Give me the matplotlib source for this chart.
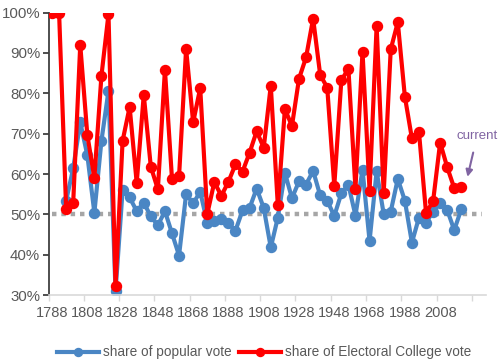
import matplotlib.pyplot as plt
import numpy as np

plt.rcParams['font.family'] = ['Liberation Sans', 'DejaVu Sans']

# election years 1788..2020
years = list(range(1788, 2024, 4))

# winner's share of popular vote (%), none for 1788 and 1792
popular = [np.nan, np.nan, 53.4, 61.4, 72.8, 64.7, 50.4, 68.2, 80.6, 30.9,
           56.0, 54.2, 50.8, 52.9, 49.5, 47.3, 50.8, 45.3, 39.8, 55.0,
           52.7, 55.6, 47.9, 48.3, 48.8, 47.8, 46.0, 51.0, 51.6, 56.4,
           51.6, 41.8, 49.2, 60.3, 54.0, 58.2, 57.4, 60.8, 54.7, 53.4,
           49.6, 55.2, 57.4, 49.7, 61.1, 43.4, 60.7, 50.1, 50.7, 58.8,
           53.4, 43.0, 49.2, 47.9, 50.7, 52.9, 51.1, 46.1, 51.3]

# winner's share of Electoral College vote (%)
electoral = [100.0, 100.0, 51.4, 52.9, 92.0, 69.7, 59.0, 84.3, 99.6, 32.2,
             68.2, 76.6, 57.8, 79.6, 61.8, 56.2, 85.8, 58.8, 59.4, 91.0,
             72.8, 81.3, 50.1, 58.0, 54.6, 58.1, 62.4, 60.6, 65.3, 70.6,
             66.5, 81.9, 52.2, 76.1, 71.9, 83.6, 88.9, 98.5, 84.6, 81.4,
             57.1, 83.2, 86.1, 56.4, 90.3, 55.9, 96.7, 55.2, 90.9, 97.6,
             79.2, 68.8, 70.4, 50.4, 53.2, 67.8, 61.7, 56.5, 56.9]

# 50% reference runs over the whole category axis
ref_years = list(range(1788, 2036, 4))
ref_level = [50] * len(ref_years)

label_years = list(range(1788, 2009, 20))
bound_ticks = list(range(1786, 2027, 20))
y_ticks = list(range(30, 101, 10))

blue = '#4a86c4'
red = '#ff0000'
txt = '#595959'

fig = plt.figure(figsize=(5, 3.59), dpi=100)
ax = fig.add_axes([0.097, 0.178, 0.875, 0.787])

ax.plot(ref_years, ref_level, color='#a6a6a6', lw=3.2, ls=(0, (1, 1.1)), zorder=1)
ax.plot(years, popular, color=blue, lw=3, marker='o', ms=7.2, zorder=2,
        label='share of popular vote')
ax.plot(years, electoral, color=red, lw=3, marker='o', ms=7.2, zorder=3,
        label='share of Electoral College vote')

ax.set_xlim(1786, 2034)
ax.set_ylim(30, 100)

ax.set_yticks(y_ticks)
ax.set_yticklabels(['%d%%' % v for v in y_ticks])
ax.set_xticks(label_years)
ax.set_xticklabels([str(y) for y in label_years])
ax.set_xticks(bound_ticks, minor=True)

ax.tick_params(axis='x', which='major', length=0, pad=8, labelsize=10.5, labelcolor=txt)
ax.tick_params(axis='x', which='minor', length=4, color='#d9d9d9', width=1)
ax.tick_params(axis='y', length=4, color='#404040', width=1.3, labelsize=10.8,
               labelcolor=txt, pad=2)

for s in ['top', 'right']:
    ax.spines[s].set_visible(False)
ax.spines['left'].set_color('#404040')
ax.spines['left'].set_linewidth(1.3)
ax.spines['bottom'].set_color('#d9d9d9')
ax.spines['bottom'].set_linewidth(1.2)

ax.annotate('current', xy=(2023.5, 59.3), xytext=(2029, 69.5),
            color='#8064a2', fontsize=9.5, ha='center', va='center',
            arrowprops=dict(arrowstyle='-|>', color='#8064a2', lw=1.5,
                            mutation_scale=10, shrinkA=6, shrinkB=0))

fig.legend(loc='lower center', bbox_to_anchor=(0.528, -0.035), ncol=2, frameon=False,
           fontsize=9.8, handlelength=3.1, handletextpad=0.3, columnspacing=0.5,
           labelcolor=txt, markerscale=0.8)

fig.savefig('out.png', dpi=100)
